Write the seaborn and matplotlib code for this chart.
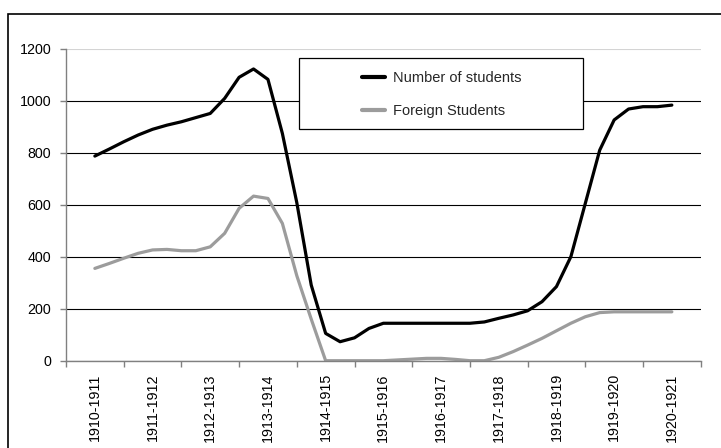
import numpy as np
import pandas as pd
import matplotlib
matplotlib.use("Agg")
import matplotlib.pyplot as plt
from matplotlib.patches import Rectangle
from matplotlib.lines import Line2D
import seaborn as sns

years = ["1910-1911", "1911-1912", "1912-1913", "1913-1914", "1914-1915",
         "1915-1916", "1916-1917", "1917-1918", "1918-1919", "1919-1920",
         "1920-1921"]

# enrolment sampled four times per academic year, first year to last year
students = [787, 814, 842, 868, 890, 906, 919, 935, 951, 1009,
            1090, 1122, 1082, 874, 608, 291, 105, 73, 88, 124,
            144, 144, 144, 144, 144, 144, 144, 149, 163, 176,
            192, 227, 285, 400, 605, 810, 926, 968, 977, 977,
            983]
foreign_students = [355, 374, 394, 413, 426, 428, 423, 423, 438, 490,
                    586, 633, 624, 528, 327, 160, 0, 0, 0, 0,
                    0, 3, 6, 9, 9, 5, 0, 0, 13, 35,
                    60, 86, 115, 144, 169, 185, 188, 188, 188, 188,
                    188]

series_names = ["Number of students", "Foreign Students"]
series_colors = ["#000000", "#9c9c9c"]
y_ticks = [0, 200, 400, 600, 800, 1000, 1200]

sns.set_style("white")
plt.rcParams["font.family"] = ["Liberation Sans", "DejaVu Sans"]

t = np.linspace(0, len(years) - 1, len(students))
df = pd.DataFrame({
    "t": np.concatenate([t, t]),
    "value": students + foreign_students,
    "series": [series_names[0]] * len(students) + [series_names[1]] * len(foreign_students),
})

fig = plt.figure(figsize=(7.21, 4.48), dpi=100)
W, H = 721, 448
ax = fig.add_axes([66 / W, 87.3 / H, 634.7 / W, 312 / H])

sns.lineplot(data=df, x="t", y="value", hue="series",
             palette=dict(zip(series_names, series_colors)),
             linewidth=2.3, ax=ax, legend=False, sort=False,
             solid_joinstyle="round")

# legend box with wide inner margins
box = Rectangle((299 / W, 1 - 129 / H), (583 - 299) / W, (129 - 58) / H,
                transform=fig.transFigure, facecolor="white",
                edgecolor="black", linewidth=0.9, zorder=5, clip_on=False)
ax.add_patch(box)
handles = [Line2D([], [], color=c, linewidth=3) for c in series_colors]
leg = ax.legend(handles, series_names, loc="upper left",
                bbox_to_anchor=(362 / W, 1 - 71 / H),
                bbox_transform=fig.transFigure, frameon=False,
                fontsize=10.5, handlelength=1.6, handletextpad=0.55,
                labelspacing=1.3, borderpad=0, borderaxespad=0)
leg.set_zorder(6)

ax.set_xlim(-0.5, len(years) - 0.5)
ax.set_ylim(y_ticks[0], y_ticks[-1])
ax.set_yticks(y_ticks)
ax.set_xticks(np.arange(-0.5, len(years)), labels=[])
ax.set_xticks(range(len(years)), labels=years, minor=True, rotation=90)
ax.set_xlabel("")
ax.set_ylabel("")

ax.tick_params(axis="x", which="major", bottom=True, length=4.5, width=1,
               color="#808080", direction="out")
ax.tick_params(axis="x", which="minor", bottom=True, length=0, pad=9,
               labelsize=10.3, labelcolor="black")
ax.tick_params(axis="y", left=True, length=4.5, width=1, color="#808080",
               pad=6, labelsize=10.3, labelcolor="black")

ax.grid(axis="y", color="black", linewidth=0.8)
ax.grid(axis="x", visible=False)
ax.set_axisbelow(True)
ax.yaxis.get_gridlines()[-1].set_color("#d4d4d4")

for s in ["top", "right"]:
    ax.spines[s].set_visible(False)
for s in ["left", "bottom"]:
    ax.spines[s].set_color("#808080")
    ax.spines[s].set_linewidth(1)

# outer chart frame
fig.add_artist(Rectangle((8 / W, -0.1), 1.2, 1.1 - 14 / H,
                         transform=fig.transFigure, fill=False,
                         edgecolor="black", linewidth=1.2))

fig.savefig("out.png", dpi=100)
